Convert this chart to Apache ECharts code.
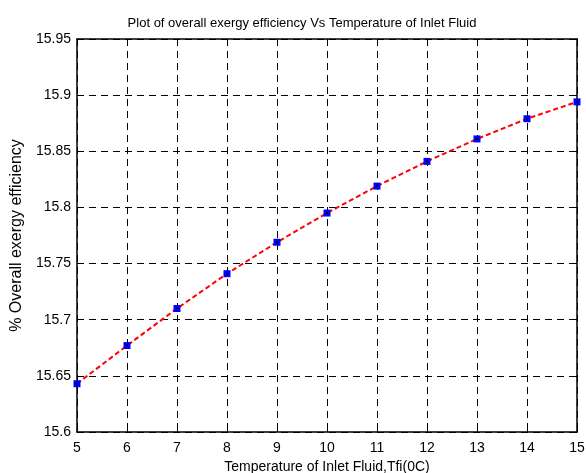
<!DOCTYPE html>
<html>
<head>
<meta charset="utf-8">
<script src="https://cdn.jsdelivr.net/npm/echarts@6/dist/echarts.min.js"></script>
<style>html,body{margin:0;padding:0;background:#fff;}#c{width:586px;height:473px;}</style>
</head>
<body>
<div id="c"></div>
<script>
var temperatures = [5, 6, 7, 8, 9, 10, 11, 12, 13, 14, 15];
var efficiency = [15.643, 15.677, 15.710, 15.741, 15.769, 15.795, 15.819, 15.841, 15.861, 15.879, 15.894];
var titleText = 'Plot of overall exergy efficiency Vs Temperature of Inlet Fluid';
var xLabel = 'Temperature of Inlet Fluid,Tfi(0C)';
var yLabel = '% Overall exergy efficiency';

var points = temperatures.map(function (t, i) { return [t, efficiency[i]]; });
var font = 'Liberation Sans, Arial, sans-serif';
var chart = echarts.init(document.getElementById('c'));
function fmtY(v) { return String(parseFloat(v.toFixed(2))); }
var tick = { show: true, inside: true, length: 5, lineStyle: { color: '#000', width: 1 } };
var axLine = { show: true, lineStyle: { color: '#000', width: 1.5 } };
chart.setOption({
  animation: false,
  backgroundColor: '#fff',
  title: {
    text: titleText, left: 297, textAlign: 'center', top: 12,
    textStyle: { fontFamily: font, fontSize: 13, fontWeight: 'normal', color: '#000' }
  },
  grid: { left: 77, right: 9, top: 39, bottom: 41, containLabel: false, outerBoundsMode: 'none' },
  xAxis: [{
    type: 'value', min: 5, max: 15, interval: 1,
    axisLine: axLine, axisTick: tick,
    axisLabel: { color: '#000', fontFamily: font, fontSize: 14, margin: 9 },
    splitLine: { show: true, lineStyle: { color: '#000', type: [7, 5], width: 1 } },
    name: xLabel, nameLocation: 'middle', nameGap: 26,
    nameTextStyle: { color: '#000', fontFamily: font, fontSize: 14 }
  }, {
    type: 'value', position: 'top', min: 5, max: 15, interval: 1,
    axisLine: axLine, axisTick: tick, axisLabel: { show: false }, splitLine: { show: false }
  }],
  yAxis: [{
    type: 'value', min: 15.6, max: 15.95, interval: 0.05,
    axisLine: axLine, axisTick: tick,
    axisLabel: { color: '#000', fontFamily: font, fontSize: 14, margin: 6, formatter: fmtY },
    splitLine: { show: true, lineStyle: { color: '#000', type: [7, 5], width: 1 } },
    name: yLabel, nameLocation: 'middle', nameGap: 50, nameRotate: 90,
    nameTextStyle: { color: '#000', fontFamily: font, fontSize: 16 }
  }, {
    type: 'value', position: 'right', min: 15.6, max: 15.95, interval: 0.05,
    axisLine: axLine, axisTick: tick, axisLabel: { show: false }, splitLine: { show: false }
  }],
  series: [{
    type: 'line', data: points, xAxisIndex: 0, yAxisIndex: 0,
    lineStyle: { color: '#ff0000', width: 2, type: [5, 3] },
    symbol: 'rect', symbolSize: 7, showAllSymbol: true,
    itemStyle: { color: '#0000ff', borderWidth: 0 }, z: 3
  }, {
    type: 'scatter', data: points, xAxisIndex: 0, yAxisIndex: 0,
    symbol: 'rect', symbolSize: 2, itemStyle: { color: '#000' }, z: 4
  }]
});
</script>
</body>
</html>
